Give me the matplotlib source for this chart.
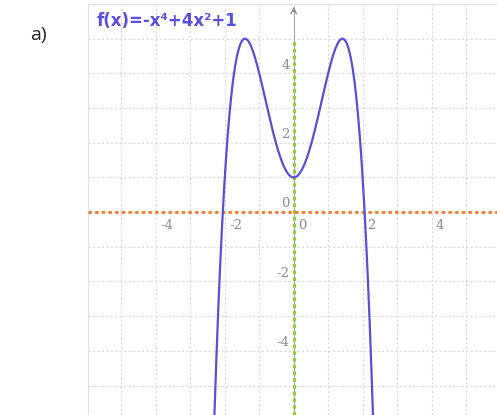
import numpy as np
import matplotlib.pyplot as plt

# function f(x) = -x^4 + 4x^2 + 1
coeffs = [-1, 0, 4, 0, 1]
x_ticks = [-4, -2, 0, 2, 4]
y_ticks = [-4, -2, 0, 2, 4]
x_tick_labels = ["-4", "-2", "0", "2", "4"]
y_tick_labels = ["-4", "-2", "0", "2", "4"]
title = "f(x)=-x\u2074+4x\u00b2+1"

fig = plt.figure(figsize=(4.97, 4.15), dpi=100)
ax = fig.add_axes([88 / 497, 0, 409 / 497, 411 / 415])
ax.set_xlim(-5.97, 5.9)
ax.set_ylim(-5.85, 6.0)

# light dotted grid every unit
for gx in np.arange(-5, 6):
    ax.axvline(gx, color="#d8d8d8", lw=0.8, ls=(0, (2, 2)), zorder=0)
for gy in np.arange(-5, 6):
    ax.axhline(gy, color="#d8d8d8", lw=0.8, ls=(0, (2, 2)), zorder=0)

for s in ["right", "bottom"]:
    ax.spines[s].set_visible(False)
for s in ["left", "top"]:
    ax.spines[s].set_color("#e0e0e0")
    ax.spines[s].set_linewidth(0.8)
ax.set_xticks([])
ax.set_yticks([])

# axes of the graph
ax.plot([0, 0], [-5.85, 5.9], color="#a8a8a8", lw=0.8, zorder=2)
ax.annotate("", xy=(0, 6.0), xytext=(0, 5.7),
            arrowprops=dict(arrowstyle="->", color="#909090", lw=1))
ax.plot([0, 0], [-5.85, 5.0], color="#8fd13a", lw=2.2, ls=(0, (1.2, 1.0)), zorder=3)
ax.plot([-5.97, 5.9], [0, 0], color="#f07a28", lw=2, ls=(0, (1.2, 1.2)), zorder=3)

# tick labels
for v, lab in zip(x_ticks, x_tick_labels):
    ax.text(v + 0.12, -0.38, lab, color="#8a8a8a", fontsize=9.5,
            ha="left", va="center", family="DejaVu Serif")
for v, lab in zip(y_ticks, y_tick_labels):
    ax.text(-0.12, v + 0.05, lab, color="#8a8a8a", fontsize=9.5,
            ha="right", va="bottom", family="DejaVu Serif")

# curve
x = np.linspace(-2.7, 2.7, 600)
y = np.polyval(coeffs, x)
ax.plot(x, y, color="#5a4fd8", lw=1.6, zorder=4)

ax.text(-5.72, 5.5, title, color="#5a4ee0", fontsize=12, fontweight="bold",
        ha="left", va="center")
fig.text(38 / 497, 1 - 35 / 415, "a)", fontsize=14, color="#222222",
         ha="center", va="center", family="Open Sans")

plt.savefig("out.png")
